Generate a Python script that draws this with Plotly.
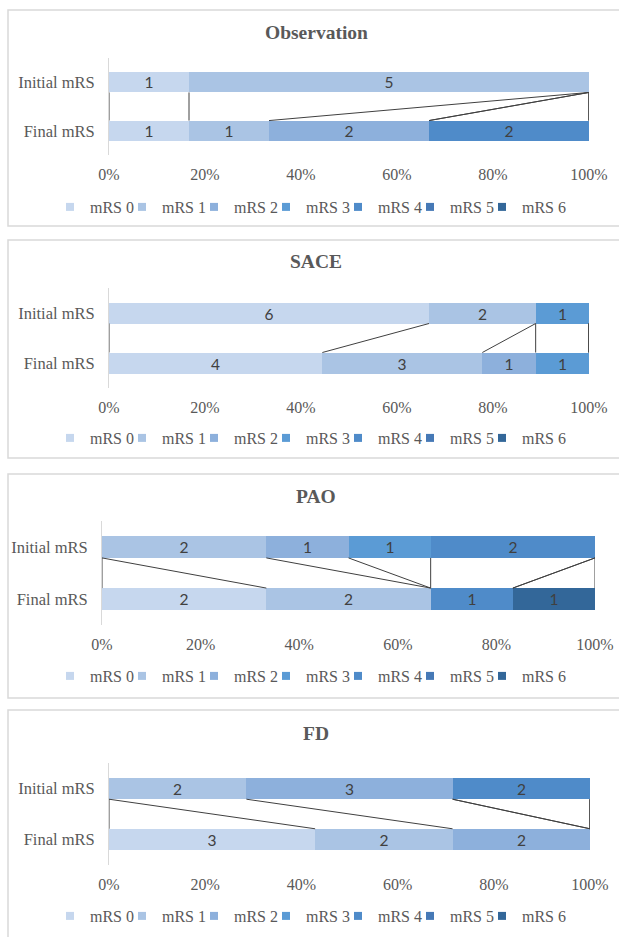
import plotly.graph_objects as go

# ---------------- data ----------------
categories = ['mRS 0', 'mRS 1', 'mRS 2', 'mRS 3', 'mRS 4', 'mRS 5', 'mRS 6']
bar_rows = ['Initial mRS', 'Final mRS']
panel_titles = ['Observation', 'SACE', 'PAO', 'FD']

observation_initial = [1, 5, 0, 0, 0, 0, 0]
observation_final = [1, 1, 2, 0, 2, 0, 0]
sace_initial = [6, 2, 0, 1, 0, 0, 0]
sace_final = [4, 3, 1, 1, 0, 0, 0]
pao_initial = [0, 2, 1, 1, 2, 0, 0]
pao_final = [2, 2, 0, 0, 1, 0, 1]
fd_initial = [0, 2, 3, 0, 2, 0, 0]
fd_final = [3, 2, 2, 0, 0, 0, 0]

tick_values = [0, 20, 40, 60, 80, 100]
tick_labels = ['0%', '20%', '40%', '60%', '80%', '100%']

colors = ['#C6D7EE', '#AAC4E4', '#8DB0DC', '#5B9BD5', '#4F8BC9', '#4679B6', '#336799']

panels = [
    (panel_titles[0], observation_initial, observation_final),
    (panel_titles[1], sace_initial, sace_final),
    (panel_titles[2], pao_initial, pao_final),
    (panel_titles[3], fd_initial, fd_final),
]

# ---------------- geometry (pixels) ----------------
W, H = 619, 937
plot_px = [(109, 589, 58, 155), (109, 589, 288, 388), (102, 595, 521, 625), (109, 590, 763, 865)]
box_px = [(8, 10, 226), (8, 240, 458), (8, 474, 698), (8, 710, 950)]
legend_y_px = [207, 438, 676, 916]
title_y_px = [32, 262, 497, 733]
legend_x_px = 50

SERIF = 'Liberation Serif, Times New Roman, serif'
TXT = '#595959'
BAR_W = 0.42


def px_x(p):
    return p / W


def px_y(p):
    return 1 - p / H


fig = go.Figure()
layout_updates = {}
shapes = []
annotations = []

for i, (title, init, fin) in enumerate(panels):
    suffix = '' if i == 0 else str(i + 1)
    xref, yref = 'x' + suffix, 'y' + suffix
    leg = 'legend' if i == 0 else 'legend' + str(i + 1)
    tot_i, tot_f = sum(init), sum(fin)

    for k, cat in enumerate(categories):
        vals = [init[k] / tot_i * 100, fin[k] / tot_f * 100]
        counts = [init[k], fin[k]]
        fig.add_trace(go.Bar(
            x=vals, y=[1, 0], orientation='h', width=BAR_W,
            marker=dict(color=colors[k], line=dict(width=0)),
            text=[str(c) if c else '' for c in counts],
            textposition='inside', insidetextanchor='middle', textangle=0,
            constraintext='none',
            textfont=dict(family='Lato, sans-serif', size=15.5, color='#404040'),
            xaxis=xref, yaxis=yref, showlegend=False, hoverinfo='skip'))
        fig.add_trace(go.Scatter(
            x=[None], y=[None], mode='markers',
            marker=dict(symbol='square', size=8, color=colors[k]),
            name=cat, legend=leg, xaxis=xref, yaxis=yref, hoverinfo='skip',
            legendwidth=(50 if k == len(categories) - 1 else 27)))

    # series lines connecting cumulative boundaries
    ci, cf = [0.0], [0.0]
    for k in range(len(categories)):
        ci.append(ci[-1] + init[k] / tot_i * 100)
        cf.append(cf[-1] + fin[k] / tot_f * 100)
    xs, ys = [], []
    for a, b in zip(ci, cf):
        xs += [a, b, None]
        ys += [1 - BAR_W / 2, BAR_W / 2, None]
    fig.add_trace(go.Scatter(
        x=xs, y=ys, mode='lines', line=dict(color='#404040', width=1),
        showlegend=False, xaxis=xref, yaxis=yref, hoverinfo='skip'))

    x0, x1, y0, y1 = plot_px[i]
    layout_updates['xaxis' + suffix] = dict(
        domain=[px_x(x0), px_x(x1)], range=[0, 100], tickvals=tick_values,
        ticktext=tick_labels, showgrid=False, zeroline=False, showline=False,
        ticks='', tickfont=dict(family=SERIF, size=16, color=TXT),
        anchor=yref, automargin=False, fixedrange=True, ticklabelstandoff=8)
    layout_updates['yaxis' + suffix] = dict(
        domain=[px_y(y1), px_y(y0)], range=[-0.5, 1.5], tickvals=[1, 0],
        ticktext=bar_rows, showgrid=False, zeroline=False, showline=True,
        linecolor='#D9D9D9', linewidth=1, ticks='', layer='below traces',
        tickfont=dict(family=SERIF, size=16.5, color=TXT),
        anchor=xref, automargin=False, fixedrange=True, ticklabelstandoff=10)
    layout_updates[leg] = dict(
        orientation='h', x=px_x(legend_x_px), xanchor='left',
        y=px_y(legend_y_px[i]), yanchor='middle', traceorder='normal',
        font=dict(family=SERIF, size=16, color=TXT),
        entrywidthmode='pixels', itemwidth=30,
        bgcolor='rgba(0,0,0,0)', borderwidth=0, itemclick=False,
        itemdoubleclick=False)

    bx, by0, by1 = box_px[i]
    shapes.append(dict(type='rect', xref='paper', yref='paper',
                       x0=px_x(bx), x1=1.05, y0=px_y(by1), y1=px_y(by0),
                       line=dict(color='#D9D9D9', width=1.5), layer='below'))
    annotations.append(dict(text=title, xref='paper', yref='paper',
                            x=px_x(316), y=px_y(title_y_px[i]),
                            xanchor='center', yanchor='middle', showarrow=False,
                            font=dict(family=SERIF, size=19.5, color=TXT, weight='bold')))

fig.update_layout(
    width=W, height=H, margin=dict(l=0, r=0, t=0, b=0),
    template='none', paper_bgcolor='white', plot_bgcolor='rgba(0,0,0,0)',
    barmode='stack', bargap=0, hovermode=False,
    uniformtext=dict(minsize=15, mode='show'),
    shapes=shapes, annotations=annotations, **layout_updates)

fig.write_html('out.html', config={'displayModeBar': False},
               post_script="document.body.style.margin='0';document.body.style.overflow='hidden';")
